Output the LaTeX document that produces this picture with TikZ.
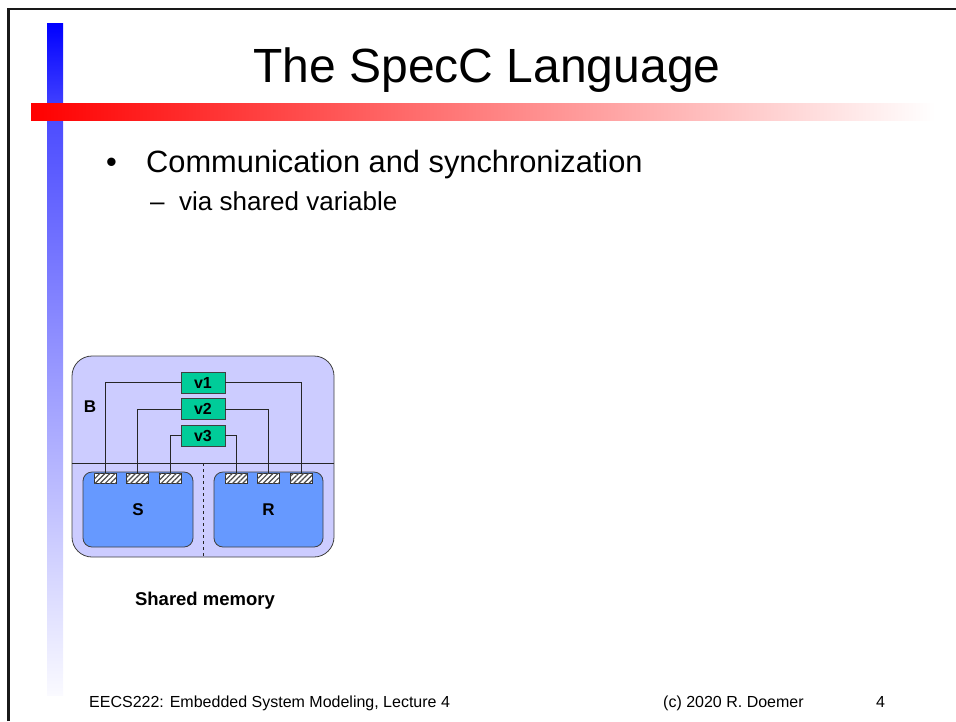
\documentclass[tikz,border=0pt]{standalone}
\usepackage{fontspec}
\setmainfont{Liberation Sans}
\usetikzlibrary{positioning,patterns.meta}
\definecolor{lavender}{RGB}{204,204,255}
\definecolor{behblue}{RGB}{102,153,255}
\definecolor{vargreen}{RGB}{0,204,153}

\begin{document}
\begin{tikzpicture}[
    x=1pt, y=-1pt,
    outerbox/.style={rectangle, draw=black!75, line width=0.8pt, fill=lavender, rounded corners=20pt, minimum width=262pt, minimum height=201pt, inner sep=0pt},
    behbox/.style={rectangle, draw=black!75, line width=0.8pt, fill=behblue, rounded corners=9pt, minimum width=110pt, minimum height=75pt, inner sep=0pt, font=\fontsize{17}{19}\selectfont\bfseries},
    portbox/.style={rectangle, draw=black!80, line width=0.6pt, fill=white, minimum width=22pt, minimum height=10pt, inner sep=0pt, postaction={pattern={Lines[angle=45,distance=3.6pt,line width=1.2pt]}, pattern color=black!70}},
    varbox/.style={rectangle, draw=black!75, line width=0.8pt, fill=vargreen, minimum width=44pt, minimum height=21pt, inner sep=0pt, font=\fontsize{16}{18}\selectfont\bfseries},
    wire/.style={draw=black!85, line width=0.8pt},
    label/.style={inner sep=0pt, font=\fontsize{17}{19}\selectfont\bfseries},
    title/.style={inner sep=0pt, anchor=base, font=\fontsize{48}{56}\selectfont},
    bullet/.style={inner sep=0pt, anchor=base west, font=\fontsize{30.8}{34}\selectfont},
    subbullet/.style={inner sep=0pt, anchor=base west, font=\fontsize{26}{30}\selectfont},
    footer/.style={inner sep=0pt, anchor=base west, font=\fontsize{16}{18}\selectfont}
]
\useasboundingbox (0,0) rectangle (956,721);

% slide frame and bars
\draw[line width=2.5pt, black!90] (8.5,721) -- (8.5,9) -- (956,9);
\shade[top color=blue, bottom color=blue!70] (47,23) rectangle (63,120);
\shade[top color=blue!70, bottom color=blue!2] (47,120) rectangle (63,695);
\shade[left color=red, right color=white] (31,103) rectangle (935,120);

% TEXT
\node[title] (ttl) at (487,82) {The SpecC Language};
\node[bullet] (dot) at (106,172) {•};
\node[bullet] (item) at (146,172) {Communication and synchronization};
\node[subbullet] (dash) at (150,210) {–};
\node[subbullet] (subitem) at (179,210) {via shared variable};

% BEHAVIOR B
\node[outerbox] (B) at (203,456.5) {};
\coordinate (sep) at (203,463);
\draw[wire] (B.west |- sep) -- (B.east |- sep);
\draw[wire, dashed, line width=0.6pt] (sep) -- (B.south);
\node[label] (lblB) at (90,407) {B};

\node[behbox] (S) at (138,509.5) {S};
\node[behbox, minimum width=109pt] (R) at (268.5,509.5) {R};

\node[portbox] (s1) at (105,478) {};
\node[portbox] (s2) at (137.5,478) {};
\node[portbox] (s3) at (170,478) {};
\node[portbox] (r1) at (236,478) {};
\node[portbox] (r2) at (268,478) {};
\node[portbox] (r3) at (301,478) {};

\node[varbox] (v1) at (203,382.5) {v1};
\node[varbox] (v2) at (203,409) {v2};
\node[varbox] (v3) at (203,435.5) {v3};

\draw[wire] (v1.west) -| (s1.north);
\draw[wire] (v1.east) -| (r3.north);
\draw[wire] (v2.west) -| (s2.north);
\draw[wire] (v2.east) -| (r2.north);
\draw[wire] (v3.west) -| (s3.north);
\draw[wire] (v3.east) -| (r1.north);

\node[inner sep=0pt, font=\fontsize{18.5}{20}\selectfont\bfseries] (cap) at (205,601) {Shared memory};

% FOOTER
\node[footer] (course) at (89,707) {EECS222: Embedded System Modeling, Lecture 4};
\node[footer] (copy) at (663,707) {(c) 2020 R. Doemer};
\node[footer] (page) at (876,707) {4};

\end{tikzpicture}
\end{document}
